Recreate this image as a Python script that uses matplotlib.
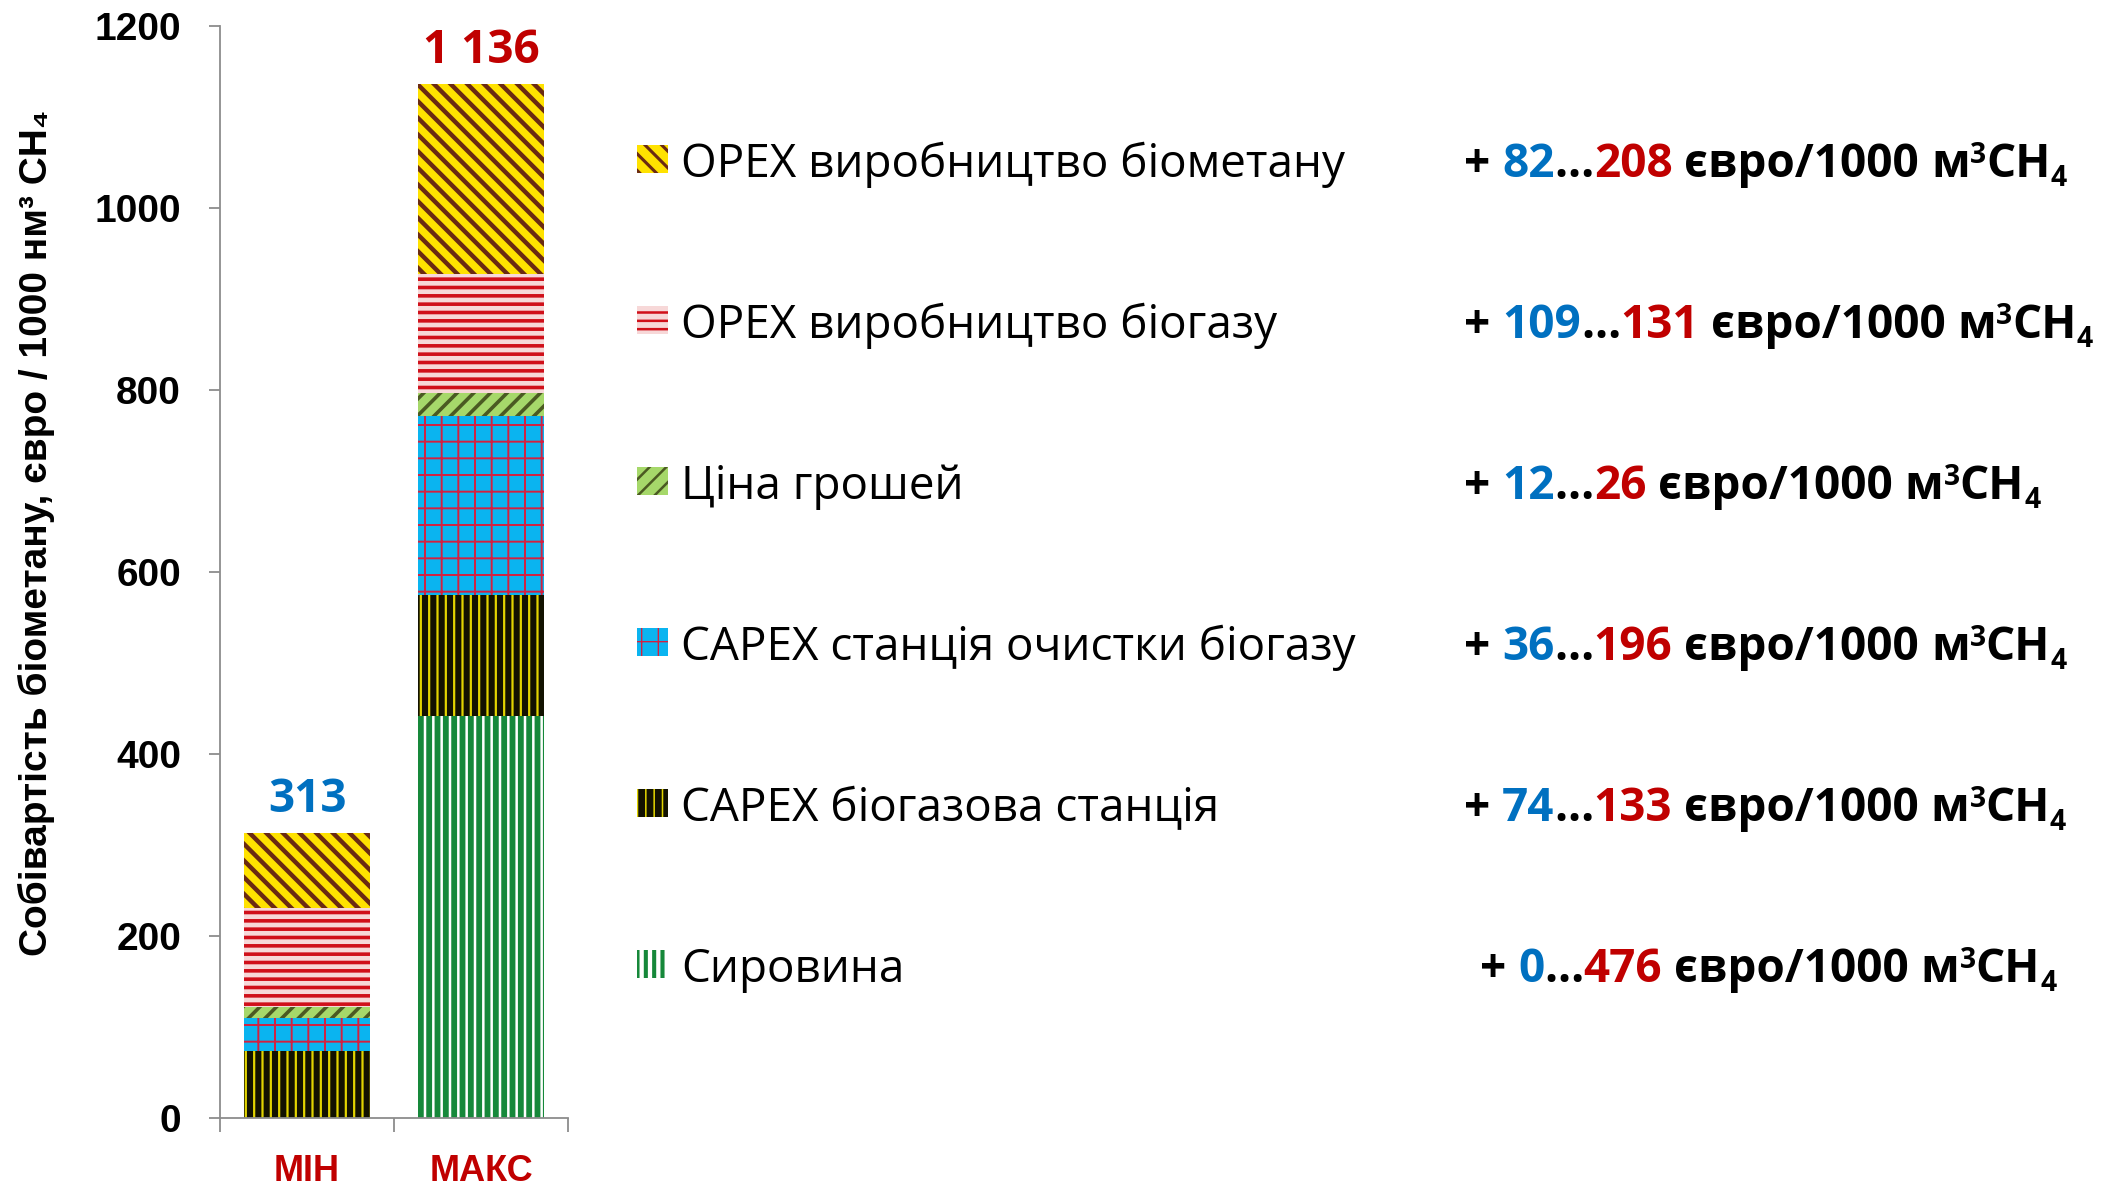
import matplotlib
matplotlib.use("Agg")
import matplotlib.pyplot as plt
from matplotlib.patches import Rectangle

# data
categories = ["МІН", "МАКС"]
series = ["Сировина", "CAPEX біогазова станція", "CAPEX станція очистки біогазу",
          "Ціна грошей", "OPEX виробництво біогазу", "OPEX виробництво біометану"]
min_vals = [0, 74, 36, 12, 109, 82]
max_vals = [442, 133, 196, 26, 131, 208]   # as drawn in the bar (total 1136)
range_low = [0, 74, 36, 12, 109, 82]
range_high = [476, 133, 196, 26, 131, 208]

# look of each series: face, hatch, hatch colour, hatch width
styles = [
    ("#ffffff", "||", "#16883a", 4.2),
    ("#121200", "||", "#e2d400", 1.6),
    ("#0ab4f0", "+", "#d42040", 1.4),
    ("#a6d86a", "//", "#4b5a22", 2.6),
    ("#f7d8d8", "--", "#d0101a", 2.6),
    ("#ffe200", "\\\\", "#6a2a12", 3.2),
]

BLUE = "#0070c0"
RED = "#c00000"
SANS = ["Open Sans", "DejaVu Sans"]
ARIAL = ["Liberation Sans", "DejaVu Sans"]

plt.rcParams["hatch.linewidth"] = 2.0

fig = plt.figure(figsize=(21.15, 11.88), dpi=100)
ax = fig.add_axes([220 / 2115, 70 / 1188, 348 / 2115, 1092 / 1188])

x = [0, 1]
bottom = [0, 0]
for i, name in enumerate(series):
    face, hatch, hcol, hlw = styles[i]
    vals = [min_vals[i], max_vals[i]]
    with plt.rc_context({"hatch.linewidth": hlw}):
        bars = ax.bar(x, vals, width=0.72, bottom=bottom, color=face,
                      edgecolor=hcol, linewidth=0, hatch=hatch, label=name)
    for b in bars:
        if hasattr(b, "set_hatch_linewidth"):
            b.set_hatch_linewidth(hlw)
    bottom = [bottom[0] + vals[0], bottom[1] + vals[1]]

totals = bottom
for xi, tot, col in zip(x, totals, [BLUE, RED]):
    lab = f"{tot:,}".replace(",", " ")
    ax.annotate(lab, (xi, tot), xytext=(0, 15), textcoords="offset points",
                ha="center", va="baseline", fontsize=33, fontweight="bold",
                color=col, family=SANS)

ax.set_xlim(-0.5, 1.5)
ax.set_ylim(0, 1200)
ax.set_yticks(range(0, 1201, 200))
ax.set_xticks(x, categories)
ax.set_xticks([-0.5, 0.5, 1.5], minor=True)
for s in ["top", "right"]:
    ax.spines[s].set_visible(False)
for s in ["left", "bottom"]:
    ax.spines[s].set_color("#8c8c8c")
    ax.spines[s].set_linewidth(1.3)
ax.tick_params(axis="y", length=8, width=1.3, color="#8c8c8c", pad=20)
ax.tick_params(axis="x", which="major", length=0, pad=26)
ax.tick_params(axis="x", which="minor", length=10, width=1.3, color="#8c8c8c")
for t in ax.get_yticklabels():
    t.set_fontsize(28)
    t.set_fontweight("bold")
    t.set_family(ARIAL)
for t in ax.get_xticklabels():
    t.set_fontsize(26)
    t.set_fontweight("bold")
    t.set_family(ARIAL)
    t.set_color(RED)

fig.text(36 / 2115, 1 - 533 / 1188, "Собівартість біометану, євро / 1000 нм³ CH₄",
         rotation=90, ha="center", va="center", fontsize=28, fontweight="bold",
         family=ARIAL)

# legend drawn by hand, top entry = last series
W, H = 2115, 1188
renderer = fig.canvas.get_renderer()


def text_w(s, size, weight):
    t = fig.text(0, 0, s, fontsize=size, fontweight=weight, family=SANS)
    w = t.get_window_extent(renderer).width / W
    t.remove()
    return w


def rich(xp, yp, parts, size):
    xf = xp / W
    yf = 1 - yp / H
    space = text_w("x x", size, "bold") - text_w("xx", size, "bold")
    for s, col, scale, dy in parts:
        if s == " ":
            xf += space
            continue
        fs = size * scale
        fig.text(xf, yf + dy * size / 72 * 100 / H, s, fontsize=fs, fontweight="bold",
                 color=col, family=SANS, ha="left", va="baseline")
        xf += text_w(s, fs, "bold")


pitch = 161
for row, i in enumerate(reversed(range(len(series)))):
    base = 177 + row * pitch
    face, hatch, hcol, hlw = styles[i]
    with plt.rc_context({"hatch.linewidth": hlw}):
        r = Rectangle((637 / W, 1 - (base - 4) / H), 31 / W, 28 / H,
                      transform=fig.transFigure, facecolor=face, edgecolor=hcol,
                      linewidth=0, hatch=hatch)
    if hasattr(r, "set_hatch_linewidth"):
        r.set_hatch_linewidth(hlw * 0.7)
    fig.patches.append(r)
    fig.text(681 / W, 1 - base / H, series[i], fontsize=33, family=SANS,
             ha="left", va="baseline")
    parts = [("+", "black", 1, 0), (" ", None, 1, 0),
             (str(range_low[i]), BLUE, 1, 0), ("…", "black", 1, 0),
             (str(range_high[i]), RED, 1, 0), (" ", None, 1, 0),
             ("євро/1000", "black", 1, 0), (" ", None, 1, 0),
             ("м", "black", 1, 0), ("3", "black", 0.62, 0.3),
             ("CH", "black", 1, 0), ("4", "black", 0.62, -0.2)]
    xs = 1480 if i == 0 else 1464
    rich(xs, base, parts, 33)

fig.savefig("out.png", dpi=100)
